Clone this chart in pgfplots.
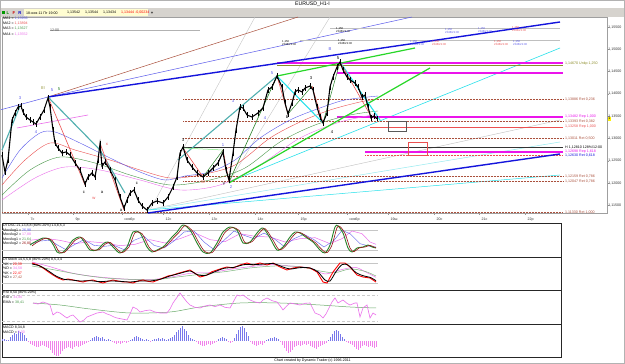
\documentclass[border=0pt]{standalone}
\usepackage{pgfplots}
\pgfplotsset{compat=1.18}
\usepackage{fontspec}
\setmainfont{Liberation Sans}
\definecolor{maB}{RGB}{90,90,235}
\definecolor{maR}{RGB}{235,80,80}
\definecolor{maG}{RGB}{70,150,70}
\definecolor{maM}{RGB}{235,110,235}
\definecolor{tB}{RGB}{20,20,220}
\definecolor{zteal}{RGB}{80,175,175}
\definecolor{zcyan}{RGB}{40,225,235}
\definecolor{lcyan}{RGB}{150,235,240}
\definecolor{zgreen}{RGB}{40,215,40}
\definecolor{dgreen}{RGB}{40,130,40}
\definecolor{cbrown}{RGB}{170,80,60}
\definecolor{zmag}{RGB}{235,20,235}
\definecolor{zolive}{RGB}{140,140,40}
\definecolor{tbgray}{RGB}{214,211,206}
\definecolor{dred}{RGB}{150,20,20}
\definecolor{hpos}{RGB}{120,120,235}
\definecolor{hneg}{RGB}{240,130,235}
\pgfplotsset{osc/.style={scale only axis, width=559pt, xmin=2, xmax=561, xtick=\empty, ytick=\empty, axis line style={black!85, line width=0.7pt}, no markers, clip=true}}
\newcommand{\fa}{\fontsize{3.6}{4}\selectfont}
\newcommand{\fb}{\fontsize{4.2}{4.8}\selectfont}
\newcommand{\fc}{\fontsize{2.8}{3.1}\selectfont}
\begin{document}
\begin{tikzpicture}[x=1pt,y=1pt]
\useasboundingbox (0,0) rectangle (625,364);
\fill[white] (0,0) rectangle (625,364);
% toolbar
\fill[tbgray] (0,347) rectangle (625,355.5);
\node[font=\fontsize{5.2}{6}\selectfont] at (312.5,359.3) {EURUSD\_H1-I};

% ===== main price panel =====
\begin{axis}[at={(2pt,151pt)}, anchor=south west, scale only axis, width=605pt, height=196pt,
  xmin=2, xmax=607, ymin=1.1133, ymax=1.15724, clip=false, no markers,
  axis line style={gray!75, line width=0.5pt},
  xtick={28,73,122,163,209,255,298,347,388,434,479,525},
  xticklabels={7с,9р,ноябр,12с,13с,14с,15р,ноябр,19ш,20с,21с,22р},
  xtick pos=bottom, ytick pos=right, yticklabel pos=right,
  ytick={1.115,1.12,1.125,1.13,1.135,1.14,1.145,1.15,1.155},
  yticklabels={{1,11500},{1,12000},{1,12500},{1,13000},{1,13500},{1,14000},{1,14500},{1,15000},{1,15500}},
  tick align=outside, major tick length=2pt, tick style={gray!80, line width=0.4pt},
  ticklabel style={font=\fa, text=black!80},
  xticklabel style={anchor=north west, xshift=-1pt, yshift=0.5pt},
  yticklabel style={anchor=west, xshift=-1.5pt, inner sep=0.6pt},
  extra y ticks={1.13444}, extra y tick labels={{1,13444}},
  extra y tick style={yticklabel style={fill=yellow, text=black}}]
% long fan lines
\addplot[gray!45, line width=0.4pt] coordinates {(150,1.11397) (255,1.15724)};
\addplot[gray!45, line width=0.4pt] coordinates {(229,1.12025) (330,1.15724)};
\addplot[gray!50, line width=0.4pt] coordinates {(148,1.11397) (560,1.13415)};
\addplot[lcyan, line width=0.5pt] coordinates {(148,1.11397) (560,1.12922)};
\addplot[zcyan, line width=0.5pt] coordinates {(148,1.11397) (560,1.12182)};
\addplot[zcyan, line width=0.6pt] coordinates {(229,1.12025) (560,1.15029)};
\addplot[cbrown, line width=0.5pt] coordinates {(48,1.13931) (298,1.15724)};
\addplot[maB, line width=0.5pt] coordinates {(48,1.13931) (412,1.15724)};
\addplot[maB, line width=0.5pt] coordinates {(0,1.13639) (48,1.13931)};
% horizontal levels
\addplot[gray!60, line width=0.4pt] coordinates {(50,1.15433) (200,1.15433)};
\addplot[gray!50, line width=0.4pt] coordinates {(330,1.15478) (560,1.15478)};
\addplot[gray!50, line width=0.4pt] coordinates {(300,1.15209) (560,1.15209)};
\addplot[zmag, line width=1.1pt] coordinates {(277,1.14693) (563,1.14693)};
\addplot[zolive, line width=0.4pt] coordinates {(277,1.14648) (563,1.14648)};
\addplot[zmag, line width=1.1pt] coordinates {(337,1.14469) (563,1.14469)};
\addplot[cbrown, densely dotted, line width=0.5pt] coordinates {(183,1.13886) (563,1.13886)};
\addplot[zmag, line width=1.1pt] coordinates {(337,1.13482) (563,1.13482)};
\addplot[cbrown, densely dotted, line width=0.5pt] coordinates {(183,1.13393) (563,1.13393)};
\addplot[maR, line width=0.5pt] coordinates {(370,1.13258) (563,1.13258)};
\addplot[cbrown, densely dotted, line width=0.5pt] coordinates {(183,1.13011) (563,1.13011)};
\addplot[black!80, line width=0.5pt] coordinates {(182,1.12810) (563,1.12810)};
\addplot[zmag, line width=1.1pt] coordinates {(365,1.12698) (563,1.12698)};
\addplot[maR, densely dotted, line width=0.5pt] coordinates {(365,1.12630) (563,1.12630)};
\addplot[cbrown, densely dotted, line width=0.5pt] coordinates {(183,1.12159) (563,1.12159)};
\addplot[cbrown, densely dotted, line width=0.5pt] coordinates {(183,1.12047) (563,1.12047)};
\addplot[cbrown, densely dotted, line width=0.5pt] coordinates {(2,1.11340) (563,1.11340)};
% boxes
\addplot[gray!70!black, line width=0.4pt] coordinates {(388,1.13393) (406,1.13393) (406,1.13168) (388,1.13168) (388,1.13393)};
\addplot[maR, line width=0.4pt] coordinates {(408,1.12922) (427,1.12922) (427,1.12630) (408,1.12630) (408,1.12922)};
% moving averages
\addplot[maM, line width=0.4pt, smooth] coordinates {(2,1.11621) (35,1.12115) (65,1.12361) (100,1.12294) (140,1.12070) (180,1.11846) (220,1.11958) (260,1.12406) (300,1.13011) (340,1.13370) (378,1.13550)};
\addplot[maG, line width=0.4pt, smooth] coordinates {(2,1.11733) (30,1.12294) (60,1.12585) (95,1.12451) (130,1.12182) (170,1.11958) (210,1.12070) (245,1.12339) (280,1.12922) (315,1.13303) (350,1.13527) (378,1.13617)};
\addplot[maR, line width=0.4pt, smooth] coordinates {(2,1.11958) (25,1.12518) (50,1.12899) (75,1.12742) (110,1.12518) (140,1.12294) (170,1.12115) (200,1.12182) (235,1.12406) (270,1.13011) (300,1.13370) (330,1.13639) (360,1.13819) (378,1.13886)};
\addplot[maB, line width=0.4pt, smooth] coordinates {(2,1.12115) (20,1.12742) (40,1.13124) (55,1.13146) (80,1.12899) (110,1.12563) (140,1.12249) (165,1.12070) (185,1.12159) (210,1.12249) (235,1.12518) (260,1.13011) (290,1.13415) (320,1.13684) (345,1.13863) (378,1.13953)};
% trend channel
\addplot[tB, line width=1.4pt] coordinates {(48,1.13931) (560,1.15612)};
\addplot[tB, line width=1.4pt] coordinates {(148,1.11330) (560,1.12653)};
\addplot[zgreen, line width=1.2pt] coordinates {(229,1.12003) (430,1.14581)};
\addplot[zgreen, line width=1.2pt] coordinates {(277,1.14401) (415,1.15029)};
\addplot[maM, line width=0.6pt] coordinates {(17,1.13236) (88,1.13527)};
% zigzag pattern lines
\addplot[zteal, line width=1.1pt] coordinates {(2,1.12742) (20,1.13729)};
\addplot[zteal, line width=1.1pt] coordinates {(48,1.13931) (100,1.12742) (125,1.11778)};
\addplot[zteal, line width=1.1pt] coordinates {(178,1.12518) (277,1.14401)};
\addplot[maR, line width=0.6pt] coordinates {(48,1.13931) (85,1.11958)};
\addplot[maR, line width=0.6pt] coordinates {(100,1.12899) (124,1.11397)};
\addplot[maR, line width=0.6pt] coordinates {(183,1.12787) (203,1.12137)};
\addplot[zgreen!60, line width=0.5pt] coordinates {(183,1.12787) (223,1.12742)};
\addplot[dgreen, line width=0.5pt] coordinates {(203,1.12137) (223,1.12742)};
\addplot[maR, line width=0.6pt] coordinates {(223,1.12742) (229,1.12025)};
\addplot[dgreen, line width=0.6pt] coordinates {(229,1.12025) (277,1.14401)};
\addplot[maR, line width=0.6pt] coordinates {(277,1.14401) (288,1.13550)};
\addplot[zcyan, line width=1.1pt] coordinates {(277,1.14401) (323,1.13348)};
\addplot[dgreen, line width=0.5pt] coordinates {(288,1.13550) (312,1.14177)};
\addplot[maR, line width=0.6pt] coordinates {(312,1.14177) (323,1.13348)};
\addplot[dgreen, line width=0.5pt] coordinates {(323,1.13348) (340,1.14715)};
\addplot[zcyan, line width=1.1pt] coordinates {(340,1.14715) (380,1.13415)};
\addplot[maR, line width=0.6pt] coordinates {(340,1.14715) (372,1.13460)};
% price (close with high-low range)
\addplot[black, line width=1.1pt, error bars/.cd, y dir=both, y fixed=0.0006, error mark=none, error bar style={black, line width=0.5pt}] coordinates {
(2,1.12630) (5,1.12249) (8,1.12518) (12,1.13415) (15,1.13572) (18,1.13706) (21,1.13729) (23,1.13594) (26,1.13482) (30,1.13415) (33,1.13370) (36,1.13325) (40,1.13482) (44,1.13639) (48,1.13908) (50,1.13706) (53,1.13191) (55,1.12899) (58,1.12787) (62,1.12675) (66,1.12698) (70,1.12630) (75,1.12451) (80,1.12294) (85,1.11980) (88,1.12137) (92,1.12227) (95,1.12137) (98,1.12518) (100,1.12877) (102,1.12384) (105,1.12473) (110,1.12294) (115,1.12070) (120,1.11689) (124,1.11442) (127,1.11621) (130,1.11778) (134,1.11846) (138,1.11621) (142,1.11487) (147,1.11397) (152,1.11554) (157,1.11599) (163,1.11554) (168,1.11689) (173,1.11913) (177,1.12137) (180,1.12675) (183,1.12810) (187,1.12518) (192,1.12361) (197,1.12227) (203,1.12137) (208,1.12227) (213,1.12339) (218,1.12451) (223,1.12698) (226,1.12294) (229,1.12070) (233,1.12675) (236,1.13191) (240,1.13706) (243,1.13684) (247,1.13527) (252,1.13482) (258,1.13572) (263,1.13684) (268,1.14088) (272,1.14155) (277,1.14401) (282,1.14155) (285,1.13796) (288,1.13550) (292,1.13796) (295,1.14043) (298,1.14088) (302,1.14043) (305,1.14132) (310,1.14177) (313,1.14088) (317,1.13706) (320,1.13482) (323,1.13348) (327,1.13572) (330,1.14155) (333,1.14379) (337,1.14603) (340,1.14715) (343,1.14536) (347,1.14379) (350,1.14312) (355,1.14245) (358,1.14155) (362,1.13931) (365,1.13975) (368,1.13706) (371,1.13460) (374,1.13505) (377,1.13444)};
\end{axis}

% ===== DTOSC =====
\begin{axis}[osc, at={(2pt,107pt)}, anchor=south west, height=34pt, ymin=0, ymax=102]
\addplot[gray!45, line width=0.4pt] coordinates {(2,80) (378,80)};
\addplot[gray!45, line width=0.4pt] coordinates {(2,20) (378,20)};
\addplot[maM, line width=0.5pt] coordinates {(30,50) (45,56) (60,50) (75,40) (90,46) (105,42) (120,34) (135,38) (150,52) (165,42) (180,55) (195,72) (210,52) (225,46) (240,70) (255,62) (270,60) (285,45) (300,55) (315,58) (330,40) (342,55) (352,78) (362,70) (370,45) (376,38)};
\addplot[maB, line width=0.4pt] coordinates {(30,38) (40,48) (50,50) (58,35) (66,22) (75,38) (84,52) (94,35) (104,32) (114,35) (124,22) (134,50) (144,62) (154,35) (164,27) (174,48) (184,75) (194,78) (204,45) (214,22) (224,50) (234,78) (244,65) (254,55) (264,72) (274,55) (284,32) (294,55) (304,68) (314,52) (324,30) (334,50) (342,80) (350,70) (360,40) (370,32) (376,30)};
\addplot[dgreen, line width=0.9pt, smooth] coordinates {(30,36) (33,42) (38,50) (43,57) (47,56) (50,51) (54,33) (57,15) (62,12) (67,27) (73,51) (80,60) (85,42) (90,21) (97,21) (103,39) (108,45) (114,27) (120,12) (127,30) (133,75) (140,72) (147,30) (152,15) (157,21) (163,30) (167,42) (172,60) (177,75) (183,96) (190,81) (197,42) (203,15) (210,12) (217,42) (223,75) (230,90) (237,81) (243,42) (250,45) (257,72) (263,87) (270,57) (277,21) (283,30) (290,60) (295,75) (300,72) (307,57) (313,45) (320,21) (325,12) (330,36) (335,90) (338,93) (343,72) (348,27) (352,15) (357,27) (363,30) (368,36) (372,30) (376,27)};
\addplot[dred, line width=0.6pt, smooth] coordinates {(32,33) (35,40) (40,49) (45,56) (49,55) (52,50) (56,32) (59,16) (64,13) (69,28) (75,50) (82,58) (87,41) (92,22) (99,22) (105,38) (110,44) (116,27) (122,13) (129,30) (135,73) (142,70) (149,30) (154,16) (159,22) (165,31) (169,42) (174,59) (179,74) (185,94) (192,80) (199,42) (205,16) (212,13) (219,42) (225,74) (232,88) (239,80) (245,43) (252,46) (259,71) (265,85) (272,56) (279,22) (285,31) (292,59) (297,74) (302,71) (309,56) (315,44) (322,22) (327,13) (332,36) (337,88) (340,91) (345,71) (350,27) (354,16) (359,27) (365,30) (370,35) (374,30) (376,28)};
\end{axis}

% ===== DTStoch =====
\begin{axis}[osc, at={(2pt,74pt)}, anchor=south west, height=33pt, ymin=0, ymax=99]
\addplot[gray!45, line width=0.4pt] coordinates {(2,80) (378,80)};
\addplot[gray!45, line width=0.4pt] coordinates {(2,20) (378,20)};
\addplot[maM, line width=0.5pt, smooth] coordinates {(32,84) (50,70) (70,52) (90,42) (110,36) (130,32) (150,31) (170,38) (190,50) (210,52) (230,62) (250,70) (270,76) (290,72) (310,66) (325,48) (340,60) (355,68) (365,55) (376,38)};
\addplot[maG!70, line width=0.5pt, smooth] coordinates {(32,72) (55,60) (80,46) (105,36) (130,32) (155,31) (180,40) (200,47) (225,55) (250,66) (275,72) (300,70) (320,57) (335,52) (350,63) (365,56) (376,42)};
\addplot[red, line width=0.9pt] coordinates {(32,81) (38,75) (43,66) (48,55) (53,45) (58,36) (63,30) (68,33) (73,30) (78,27) (83,24) (88,28) (93,30) (98,25) (103,21) (108,26) (113,30) (118,27) (123,24) (128,24) (133,21) (138,27) (143,30) (148,26) (153,24) (158,30) (163,36) (168,42) (173,45) (178,50) (183,54) (190,60) (195,50) (200,39) (204,42) (207,45) (212,55) (217,60) (222,65) (227,69) (233,66) (240,75) (247,81) (253,75) (260,81) (267,75) (273,81) (280,69) (287,60) (293,66) (300,69) (305,67) (310,66) (317,54) (323,24) (327,21) (333,54) (340,81) (345,81) (350,69) (357,45) (363,39) (370,36) (376,24)};
\addplot[black, line width=0.8pt, smooth] coordinates {(32,78) (40,72) (48,58) (56,42) (64,32) (72,30) (80,27) (90,28) (100,25) (110,27) (120,26) (130,24) (140,27) (150,27) (160,32) (170,42) (180,50) (190,57) (198,45) (206,44) (214,54) (224,65) (234,68) (244,76) (254,76) (264,78) (274,79) (282,70) (290,63) (300,67) (310,66) (318,54) (325,30) (330,27) (336,55) (342,76) (348,75) (356,52) (364,42) (370,38) (376,28)};
\end{axis}

% ===== RSI =====
\begin{axis}[osc, at={(2pt,40pt)}, anchor=south west, height=34pt, ymin=0, ymax=102]
\addplot[gray!40, densely dashed, line width=0.4pt] coordinates {(2,87) (378,87)};
\addplot[gray!40, densely dashed, line width=0.4pt] coordinates {(2,9) (378,9)};
\addplot[maG!80, line width=0.5pt, smooth] coordinates {(33,63) (60,57) (90,45) (130,33) (170,36) (200,51) (240,63) (280,63) (320,57) (350,51) (376,48)};
\addplot[maM, line width=0.6pt] coordinates {(33,63) (38,60) (43,66) (47,62) (50,57) (53,27) (57,36) (60,33) (64,24) (67,18) (70,24) (73,27) (77,15) (80,6) (84,12) (87,21) (92,27) (97,33) (103,36) (107,30) (110,27) (114,21) (117,18) (122,15) (127,12) (130,30) (133,51) (137,45) (140,36) (145,40) (150,42) (155,36) (160,33) (167,33) (170,45) (173,63) (177,80) (180,93) (183,81) (187,66) (190,57) (195,50) (200,48) (205,54) (210,57) (215,52) (220,57) (225,50) (230,48) (234,70) (237,87) (240,84) (243,87) (247,78) (250,72) (255,66) (260,63) (263,72) (267,78) (272,70) (277,66) (280,55) (283,42) (287,55) (290,63) (295,60) (300,57) (305,62) (310,63) (315,33) (320,27) (323,18) (326,30) (328,42) (332,66) (335,78) (338,63) (343,72) (347,62) (350,57) (355,63) (357,63) (360,21) (363,48) (367,57) (370,18) (373,33) (376,27)};
\end{axis}

% ===== MACD =====
\begin{axis}[osc, at={(2pt,7pt)}, anchor=south west, height=33pt, ymin=-16, ymax=17]
\addplot[hpos, ycomb, line width=0.6pt] coordinates {(2,2) (4,2) (6,1) (8,1) (10,4) (12,6) (14,8) (16,7) (18,10) (20,9) (22,8) (24,6) (26,3) (90,1) (92,3) (94,4) (96,5) (98,4) (100,3) (102,4) (104,2) (106,1) (108,2) (110,1) (130,1) (132,2) (134,4) (136,5) (138,4) (140,3) (142,2) (144,1) (146,2) (148,1) (152,1) (154,2) (156,2) (158,3) (160,2) (162,3) (164,2) (166,1) (168,2) (170,3) (172,4) (174,6) (176,9) (178,11) (180,13) (182,15) (184,12) (186,10) (188,6) (190,3) (192,2) (194,1) (218,2) (220,3) (222,4) (224,3) (226,2) (234,3) (236,7) (238,11) (240,14) (242,15) (244,13) (246,9) (248,5) (266,1) (268,2) (270,3) (272,3) (274,4) (276,3) (278,2) (328,1) (330,4) (332,7) (334,10) (336,11) (338,10) (340,7) (342,4) (344,2)};
\addplot[hneg, ycomb, line width=0.6pt] coordinates {(28,-1) (30,-3) (32,-4) (34,-5) (36,-6) (38,-6) (40,-5) (42,-4) (44,-5) (46,-6) (48,-7) (50,-9) (52,-12) (54,-14) (56,-15) (58,-15) (60,-13) (62,-10) (64,-8) (66,-7) (68,-6) (70,-7) (72,-8) (74,-6) (76,-5) (78,-6) (80,-5) (82,-4) (84,-3) (86,-2) (88,-1) (112,-1) (114,-2) (116,-3) (118,-2) (120,-3) (122,-2) (124,-1) (126,-2) (128,-1) (150,-1) (196,-1) (198,-3) (200,-4) (202,-5) (204,-5) (206,-4) (208,-3) (210,-4) (212,-3) (214,-2) (216,-1) (228,-1) (230,-2) (232,-1) (250,-1) (252,-3) (254,-4) (256,-5) (258,-4) (260,-3) (262,-4) (264,-2) (280,-1) (282,-4) (284,-7) (286,-10) (288,-12) (290,-11) (292,-9) (294,-6) (296,-5) (298,-4) (300,-5) (302,-4) (304,-3) (306,-4) (308,-3) (310,-5) (312,-6) (314,-7) (316,-8) (318,-6) (320,-5) (322,-4) (324,-3) (326,-2) (346,-1) (348,-2) (350,-3) (352,-4) (354,-6) (356,-8) (358,-9) (360,-7) (362,-5) (364,-4) (366,-5) (368,-6) (370,-5) (372,-6) (374,-7) (376,-6)};
\end{axis}

% ===== toolbar text =====
\fill[green!60!black] (2,349.5) rectangle (4.5,352.5);
\node[font=\fb\bfseries, text=green!50!black, inner sep=0] at (8,351) {L};
\node[font=\fb\bfseries, text=red!80!black, inner sep=0] at (14,351) {F};
\node[font=\fb\bfseries, text=blue!80!black, inner sep=0] at (20,351) {R};
\fill[yellow!18] (24,348) rectangle (148,354.5);
\begin{scope}[every node/.style={font=\fa, inner sep=0, anchor=west}]
\node at (26,351.2) {18-ноя-11 Пт 19:00};
\node at (67,351.2) {1,13542};
\node at (85,351.2) {1,13544};
\node at (103,351.2) {1,13434};
\node[text=red] at (121,351.2) {1,13444};
\node[text=red] at (135,351.2) {-0,00234};
\end{scope}
\node[font=\fb\bfseries, inner sep=0] at (152,351) {+};

% ===== MA legend =====
\begin{scope}[every node/.style={font=\fa, inner sep=0, anchor=west}]
\node at (3,345.5) {MA1 = \textcolor{maB}{1,13956}};
\node at (3,340.5) {MA2 = \textcolor{maR}{1,13894}};
\node at (3,335.2) {MA3 = \textcolor{maG}{1,13627}};
\node at (3,330) {MA4 = \textcolor{maM}{1,13552}};
\node[text=black!70] at (50,334) {12:00};
% fib labels
\node[text=zolive] at (565,300) {1,14670 Unkp 1,250};
\node[text=cbrown] at (565,265) {1,13886 Ret 0,236};
\node[text=zmag] at (565,247.5) {1,13482 Rep 1,000};
\node[text=cbrown] at (565,243) {1,13393 Ret 0,382};
\node[text=maR] at (565,237) {1,13258 Rep 1,000};
\node[text=cbrown] at (565,226) {1,13011 Ret 0,500};
\node[text=black] at (565,217) {H 1,12810 128\%/12:00};
\node[text=zmag] at (565,212.5) {1,12698 Rep 1,618};
\node[text=tB] at (565,208.5) {1,12630 Ret 0,618};
\node[text=cbrown] at (565,188) {1,12159 Ret 0,786};
\node[text=cbrown] at (565,183) {1,12047 Ret 0,786};
\node[text=cbrown] at (565,152) {1,11330 Ret 1,000};
% oscillator legends
\node at (3,138) {DTOSC 21,13,8,8 (80\%-20\%) 14,8,5,3};
\node at (3,133.5) {MovAvg1 = \textcolor{maB}{26,98}};
\node at (3,129) {MovAvg2 = \textcolor{maM}{17,88}};
\node at (3,124.5) {MovAvg1 = \textcolor{maG}{21,64}};
\node at (3,120) {MovAvg2 = \textcolor{dred}{26,80}};
\node at (3,104.5) {DTStoch 14,5,5,8 (80\%-20\%) 8,5,3,4};
\node at (3,100) {\%K = \textcolor{red}{20,39}};
\node at (3,95.5) {\%D = \textcolor{maM}{34,58}};
\node at (3,91) {\%K = \textcolor{red}{22,47}};
\node at (3,86.5) {\%D = \textcolor{cbrown}{27,42}};
\node at (3,71) {RSI 8,50 (80\%-20\%)};
\node at (3,66.3) {RSI = \textcolor{maM}{34,86}};
\node at (3,61.6) {EMA = \textcolor{maG}{38,41}};
\node at (3,36.3) {MACD 8,34,8};
\node at (3,31.8) {MACD = \textcolor{maM}{0,00}};
\end{scope}
% wave labels
\begin{scope}[every node/.style={font=\fb, inner sep=0}]
\node[text=zolive] at (43,276) {III};
\node[text=maB] at (52,274) {5};
\node[text=dgreen] at (59,275) {5};
\node[text=maB] at (20,266) {3};
\node[text=maB] at (36,232) {4};
\node[text=maR] at (107,220) {x};
\node at (84,172) {c};
\node[text=maR] at (94,166) {w};
\node at (102,172) {a};
\node at (121,154) {a};
\node at (137,181) {c};
\node at (183,224) {3};
\node[text=maR] at (203,182) {W};
\node[text=maB] at (223,219) {1};
\node at (224,180) {Y};
\node[text=maB] at (231,177) {2};
\node[text=maB] at (233,263) {3};
\node[text=maB] at (265,246) {4};
\node[text=maB] at (272,291) {5};
\node at (287,247) {b};
\node at (311,286) {3};
\node at (332,232) {4};
\node[text=maB] at (330,315) {B};
\node at (338,306) {5};
\end{scope}
% time stamp labels
\begin{scope}[every node/.style={font=\fc, inner sep=0, align=left, anchor=south west}]
\node at (282,318) {1,150\\2046/21:00};
\node at (336,331) {1,150\\2046/21:00};
\node at (338,319) {1,150\\2046/21:00};
\node[text=maB] at (445,330) {1,150\\2046/21:00};
\node[text=maB] at (478,331) {1,150\\2046/21:00};
\node[text=maR] at (512,332) {1,150\\2046/21:00};
\node[text=maB] at (410,318) {1,150\\2046/21:00};
\node[text=maR] at (432,318) {1,150\\2046/21:00};
\node[text=maR] at (494,318) {1,150\\2046/21:00};
\node[text=maB] at (513,318) {1,150\\2046/21:00};
\end{scope}
% footer and frame
\node[font=\fa, inner sep=0] at (312.5,3.3) {Chart created by Dynamic Trader (c) 1996-2011};
\draw[gray!60, line width=0.8pt] (0.4,0.4) rectangle (624.6,363.6);
\end{tikzpicture}
\end{document}
